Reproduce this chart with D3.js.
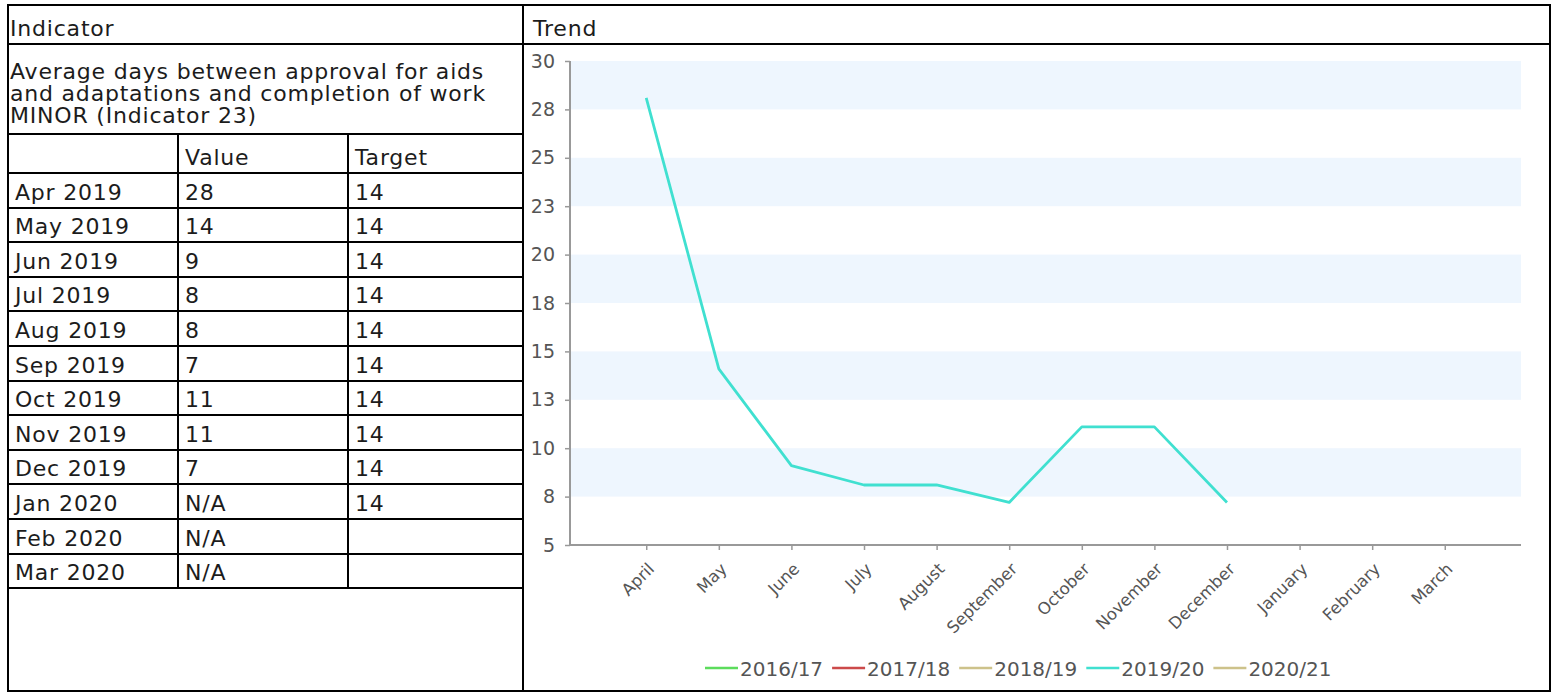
<!DOCTYPE html>
<html>
<head>
<meta charset="utf-8">
<script src="https://cdn.jsdelivr.net/npm/d3@7"></script>
<style>
    body { margin: 0; background: #fff; }
    svg text { font-family: "DejaVu Sans", Verdana, sans-serif; }
</style>
</head>
<body>
<div id="page"></div>
<script>
// table data
const INDICATOR_LINES = ["Average days between approval for aids", "and adaptations and completion of work", "MINOR (Indicator 23)"];
const ROW_LABELS = ["Apr 2019", "May 2019", "Jun 2019", "Jul 2019", "Aug 2019", "Sep 2019", "Oct 2019", "Nov 2019", "Dec 2019", "Jan 2020", "Feb 2020", "Mar 2020"];
const ROW_VALUES = ["28", "14", "9", "8", "8", "7", "11", "11", "7", "N/A", "N/A", "N/A"];
const ROW_TARGETS = ["14", "14", "14", "14", "14", "14", "14", "14", "14", "14", "", ""];

// chart data
const MONTHS = ["April", "May", "June", "July", "August", "September", "October", "November", "December", "January", "February", "March"];
const Y_TICKS = [5, 7.5, 10, 12.5, 15, 17.5, 20, 22.5, 25, 27.5, 30];
const SERIES = ["2016/17", "2017/18", "2018/19", "2019/20", "2020/21"];
const COLOURS = ["#5cdc5c", "#cc4a4a", "#cdc28a", "#40e0d0", "#cdc28a"];
const S_2016_17 = [];
const S_2017_18 = [];
const S_2018_19 = [];
const S_2019_20 = [28.1, 14.1, 9.1, 8.1, 8.1, 7.2, 11.1, 11.1, 7.2, null, null, null];
const S_2020_21 = [];

(function () {

    const W = 1551, H = 694;
    const rowTop = 173, rowH = 34.6;

    const svg = d3.select("#page").append("svg")
        .attr("width", W)
        .attr("height", H);

    function hline(y, x1, x2) {
        svg.append("line").attr("x1", x1).attr("x2", x2).attr("y1", y).attr("y2", y)
            .attr("stroke", "#000").attr("stroke-width", 2);
    }
    function vline(x, y1, y2) {
        svg.append("line").attr("x1", x).attr("x2", x).attr("y1", y1).attr("y2", y2)
            .attr("stroke", "#000").attr("stroke-width", 2);
    }

    function drawTable() {
        const t = svg.append("g").attr("font-size", 22).attr("fill", "#1c1c1c")
            .attr("letter-spacing", 0.8);

        t.append("text").attr("x", 10).attr("y", 36).text("Indicator");
        t.append("text").attr("x", 533).attr("y", 36).text("Trend");

        t.selectAll(".desc").data(INDICATOR_LINES).enter().append("text")
            .attr("x", 10)
            .attr("y", (d, i) => 79 + i * 22)
            .text(d => d);

        const cols = [15, 185, 355];
        t.append("text").attr("x", cols[1]).attr("y", 165).text("Value");
        t.append("text").attr("x", cols[2]).attr("y", 165).text("Target");

        const rows = t.selectAll(".row").data(ROW_LABELS).enter().append("g")
            .attr("transform", (d, i) => `translate(0,${rowTop + (i + 1) * rowH - 8})`);
        rows.append("text").attr("x", cols[0]).text(d => d);
        rows.append("text").attr("x", cols[1]).text((d, i) => ROW_VALUES[i]);
        rows.append("text").attr("x", cols[2]).text((d, i) => ROW_TARGETS[i]);

        // grid lines
        const lastRow = Math.round(rowTop + ROW_LABELS.length * rowH);
        hline(134, 8, 523);
        d3.range(ROW_LABELS.length + 1).forEach(i => hline(Math.round(rowTop + i * rowH), 8, 523));
        vline(178, 134, lastRow);
        vline(348, 134, lastRow);

        hline(44, 8, 1550);
        vline(523, 5, 691);
        svg.append("rect").attr("x", 8).attr("y", 5).attr("width", 1542).attr("height", 686)
            .attr("fill", "none").attr("stroke", "#000").attr("stroke-width", 2);
    }

    function drawChart() {
        const left = 570, right = 1521, top = 61, bottom = 545;

        const xScale = d3.scalePoint().domain(MONTHS).range([left, right]).padding(1.05);
        const yScale = d3.scaleLinear().domain([5, 30]).range([bottom, top]);

        const g = svg.append("g");

        // alternating bands
        const bands = d3.range(Y_TICKS.length - 1).filter(i => (Y_TICKS.length - 2 - i) % 2 === 0);
        g.selectAll(".band").data(bands).enter().append("rect")
            .attr("x", left + 1)
            .attr("width", right - left - 1)
            .attr("y", i => yScale(Y_TICKS[i + 1]))
            .attr("height", i => yScale(Y_TICKS[i]) - yScale(Y_TICKS[i + 1]))
            .attr("fill", "#eef6fe");

        // y axis
        const yAxis = g.append("g")
            .attr("transform", `translate(${left},0)`)
            .call(d3.axisLeft(yScale).tickValues(Y_TICKS).tickSize(5).tickPadding(10).tickFormat(d => Math.round(d)));
        yAxis.select(".domain").attr("stroke", "#999").attr("stroke-width", 2)
            .attr("d", `M0,${top}V${bottom + 1}`);
        yAxis.selectAll(".tick line").attr("stroke", "#999").attr("stroke-width", 1.5);
        yAxis.selectAll(".tick text").attr("fill", "#555").attr("font-size", 19)
            .attr("font-family", "DejaVu Sans, sans-serif");

        // x axis
        const xAxis = g.append("g")
            .attr("transform", `translate(0,${bottom})`)
            .call(d3.axisBottom(xScale).tickSize(5).tickFormat(""));
        xAxis.select(".domain").attr("stroke", "#999").attr("stroke-width", 2)
            .attr("d", `M${left},0H${right}`);
        xAxis.selectAll(".tick line").attr("stroke", "#999").attr("stroke-width", 1.5);

        g.selectAll(".xlab").data(MONTHS).enter().append("text")
            .attr("transform", d => `translate(${xScale(d) + 9},570) rotate(-45)`)
            .attr("text-anchor", "end")
            .attr("font-size", 16.5)
            .attr("fill", "#555")
            .text(d => d);

        // series lines
        const allSeries = [S_2016_17, S_2017_18, S_2018_19, S_2019_20, S_2020_21];
        const line = d3.line()
            .defined(d => d != null)
            .x((d, i) => xScale(MONTHS[i]))
            .y(d => yScale(d));
        allSeries.forEach((s, k) => {
            if (!s.length) return;
            g.append("path")
                .datum(s)
                .attr("d", line)
                .attr("fill", "none")
                .attr("stroke", COLOURS[k])
                .attr("stroke-width", 2.8)
                .attr("stroke-linejoin", "round");
        });

        // legend
        const legend = g.append("g").attr("transform", "translate(0,668)");
        let x = 705;
        SERIES.forEach((name, k) => {
            legend.append("line").attr("x1", x).attr("x2", x + 33).attr("y1", 0).attr("y2", 0)
                .attr("stroke", COLOURS[k]).attr("stroke-width", 2.5);
            const t = legend.append("text").attr("x", x + 35).attr("y", 8)
                .attr("font-size", 20).attr("fill", "#555").text(name);
            x += 35 + t.node().getComputedTextLength() + 9;
        });
    }

    drawChart();
    drawTable();

})()
</script>
</body>
</html>
